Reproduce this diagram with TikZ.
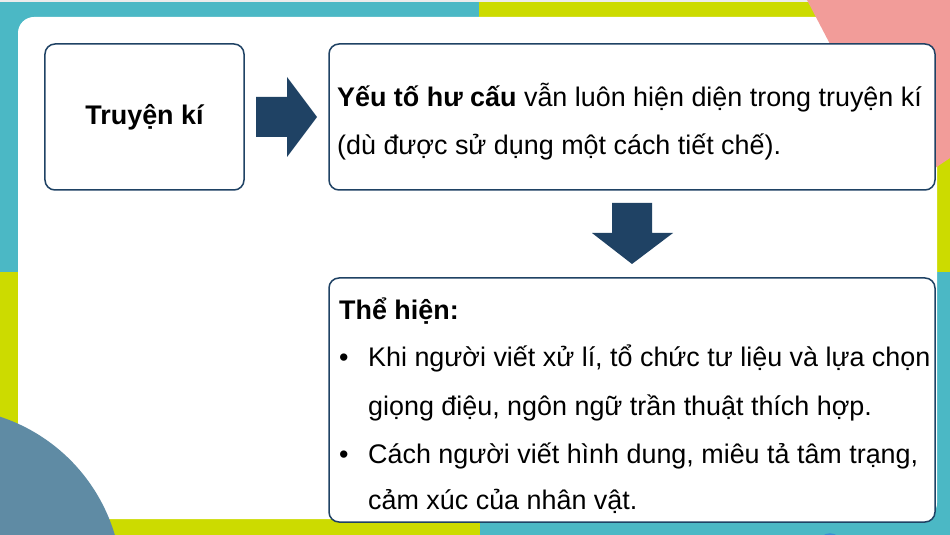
\documentclass[tikz,border=0pt]{standalone}
\usepackage{fontspec}
\setmainfont{Liberation Sans}
\usepackage{xcolor}
\usepackage{tikz}
\usetikzlibrary{positioning}
\definecolor{band teal}{HTML}{4BB8C5}
\definecolor{band lime}{HTML}{CCDB00}
\definecolor{band pink}{HTML}{F29C99}
\definecolor{band slate}{HTML}{5F8BA4}
\definecolor{navy}{HTML}{1F4264}
\definecolor{dot blue}{HTML}{3A8FD6}
\tikzset{
frame box/.style = { rectangle, draw = navy, line width = 1.5bp, fill = white, rounded corners = 10bp },
txt/.style = { font = \fontsize{27}{30}\selectfont, inner sep = 0pt, anchor = base west },
}
\tikzset{
pics/right block/.style = {
        code = {
        \path[fill = #1] (-30, -20) -- (1, -20) -- (1, -40) -- (31, 0) -- (1, 40) -- (1, 20) -- (-30, 20) -- cycle;
        }
    },
pics/down block/.style = {
        code = {
        \path[fill = #1] (-20, -30) -- (20, -30) -- (20, 0) -- (41, 0) -- (0, 31) -- (-40, 0) -- (-20, 0) -- cycle;
        }
    }
}

\begin{document}
\begin{tikzpicture}[x = 1bp, y = -1bp]
    \useasboundingbox (0, 0) rectangle (950, 535);
    \clip (0, 0) rectangle (950, 535);
    % slide background
    \fill[band teal] (0, 0) rectangle (950, 535);
    \fill[band lime] (479, 0) rectangle (950, 17);
    \fill[band lime] (0, 272) rectangle (18, 535);
    \fill[band lime] (0, 519) rectangle (480, 535);
    \fill[band lime] (937, 150) rectangle (950, 272);
    \fill[gray!15] (0, 0) rectangle (950, 2);
    \fill[white, rounded corners = 16bp] (18, 17) rectangle (937, 519);
    \fill[band pink] (807, 0) -- (950, 0) -- (950, 158) -- (935, 168) -- (900, 168) -- (830, 44) -- cycle;
    \fill[band slate] (-55, 585) circle[radius = 177bp];
    \draw[dot blue, line width = 1.5bp] (830, 545) circle[radius = 11bp];
    % boxes
    \node[frame box, minimum width = 199bp, minimum height = 146bp, font = \fontsize{27}{30}\selectfont\bfseries] (genre) at (144.5, 117) {Truyện kí};
    \node[frame box, minimum width = 606bp, minimum height = 146bp] (claim) at (632, 117) {};
    \node[frame box, minimum width = 606bp, minimum height = 244bp] (proof) at (632, 400) {};
    \draw pic at (286, 117) {right block = navy};
    \draw pic at (632, 233) {down block = navy};
    % texts
    \node[txt] (claim1) at (337, 107) {\textbf{Yếu tố hư cấu} vẫn luôn hiện diện trong truyện kí};
    \node[txt] (claim2) at (337, 155) {(dù được sử dụng một cách tiết chế).};
    \node[txt] (head) at (339, 320) {\textbf{Thể hiện:}};
    \node[txt] (dot1) at (339, 367) {•};
    \node[txt] (item1a) at (368, 367) {Khi người viết xử lí, tổ chức tư liệu và lựa chọn};
    \node[txt] (item1b) at (368, 415) {giọng điệu, ngôn ngữ trần thuật thích hợp.};
    \node[txt] (dot2) at (339, 463) {•};
    \node[txt] (item2a) at (368, 463) {Cách người viết hình dung, miêu tả tâm trạng,};
    \node[txt] (item2b) at (368, 509) {cảm xúc của nhân vật.};
  \end{tikzpicture}
\end{document}
